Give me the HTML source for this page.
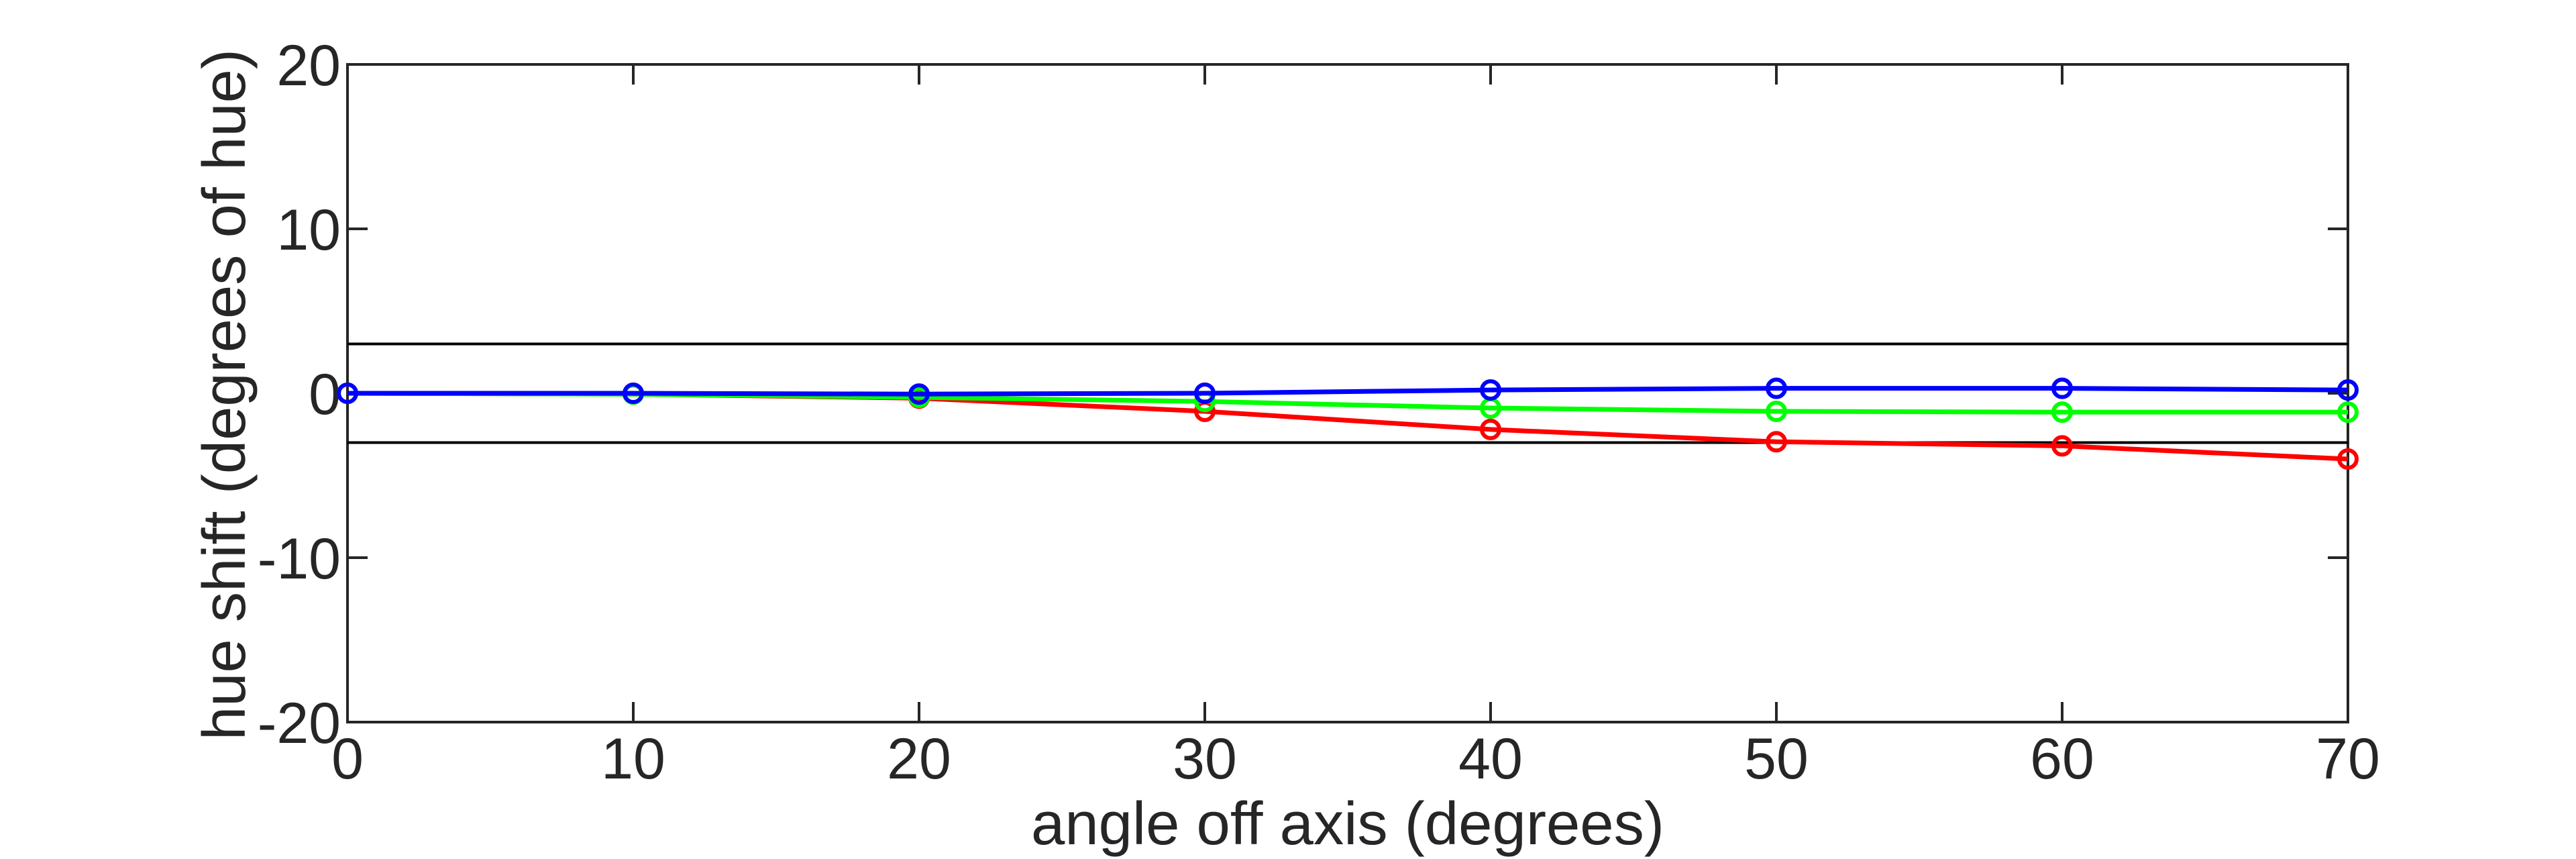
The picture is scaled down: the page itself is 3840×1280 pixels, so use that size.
<!DOCTYPE html>
<html><head><meta charset="utf-8"><style>html,body{margin:0;padding:0;background:#fff}svg{display:block}</style></head>
<body>
<svg id="chart" width="3840" height="1280" xmlns="http://www.w3.org/2000/svg" font-family="Liberation Sans, sans-serif"></svg>
<script>
const angles = [0,10,20,30,40,50,60,70];
const redValues = [0,-0.05,-0.3,-1.1,-2.2,-2.95,-3.2,-4.0];
const greenValues = [0,-0.05,-0.25,-0.5,-0.9,-1.1,-1.15,-1.15];
const blueValues = [0,0,-0.05,0.0,0.2,0.3,0.3,0.2];
const xTicks = [0,10,20,30,40,50,60,70];
const yTicks = [-20,-10,0,10,20];
const refLines = [3,-3];

const L=518,R=3500,T=96,B=1076;
const xs=v=>L+(v-0)/(70-0)*(R-L);
const ys=v=>B-(v+20)/40*(B-T);
const svg=document.getElementById('chart');
const NS='http://www.w3.org/2000/svg';
function mk(tag,attrs,parent){const e=document.createElementNS(NS,tag);for(const k in attrs)e.setAttribute(k,attrs[k]);(parent||svg).appendChild(e);return e;}

const frame=mk('rect',{x:L,y:T,width:R-L,height:B-T,fill:'#fff',stroke:'#262626','stroke-width':4});



xTicks.forEach(t=>{
  const g=mk('g',{});
  
  
  mk('line',{x1:xs(t),x2:xs(t),y1:B,y2:B-30,stroke:'#262626','stroke-width':4},g);
  mk('line',{x1:xs(t),x2:xs(t),y1:T,y2:T+30,stroke:'#262626','stroke-width':4},g);
  const tx=mk('text',{x:xs(t),y:1160,'text-anchor':'middle','font-size':86,fill:'#262626'},g);
  tx.textContent=t;
});
yTicks.forEach(t=>{
  const g=mk('g',{});
  
  
  mk('line',{x1:L,x2:L+30,y1:ys(t),y2:ys(t),stroke:'#262626','stroke-width':4},g);
  mk('line',{x1:R,x2:R-30,y1:ys(t),y2:ys(t),stroke:'#262626','stroke-width':4},g);
  const tx=mk('text',{x:508,y:ys(t)+31,'text-anchor':'end','font-size':86,fill:'#262626'},g);
  tx.textContent=t;
});
refLines.forEach(v=>{
  const l=mk('line',{x1:L,x2:R,y1:ys(v),y2:ys(v),stroke:'#000','stroke-width':4});
  
  
});
function series(vals,color,name){
  const g=mk('g',{});
  
  
  mk('polyline',{points:vals.map((v,i)=>xs(angles[i])+','+ys(v)).join(' '),fill:'none',stroke:color,'stroke-width':7},g);
  vals.forEach((v,i)=>{
    const c=mk('circle',{cx:xs(angles[i]),cy:ys(v),r:13,fill:'none',stroke:color,'stroke-width':6},g);
    
    
  });
}
series(redValues,'#ff0000','red');
series(greenValues,'#00ff00','green');
series(blueValues,'#0000ff','blue');

const xl=mk('text',{x:(L+R)/2,y:1258,'text-anchor':'middle','font-size':90,fill:'#262626',textLength:944,lengthAdjust:'spacingAndGlyphs'});
xl.textContent='angle off axis (degrees)';


const yl=mk('text',{x:0,y:0,'text-anchor':'middle','font-size':90,fill:'#262626',transform:'translate(365,588) rotate(-90)',textLength:1030,lengthAdjust:'spacingAndGlyphs'});
yl.textContent='hue shift (degrees of hue)';


</script>
</body></html>
